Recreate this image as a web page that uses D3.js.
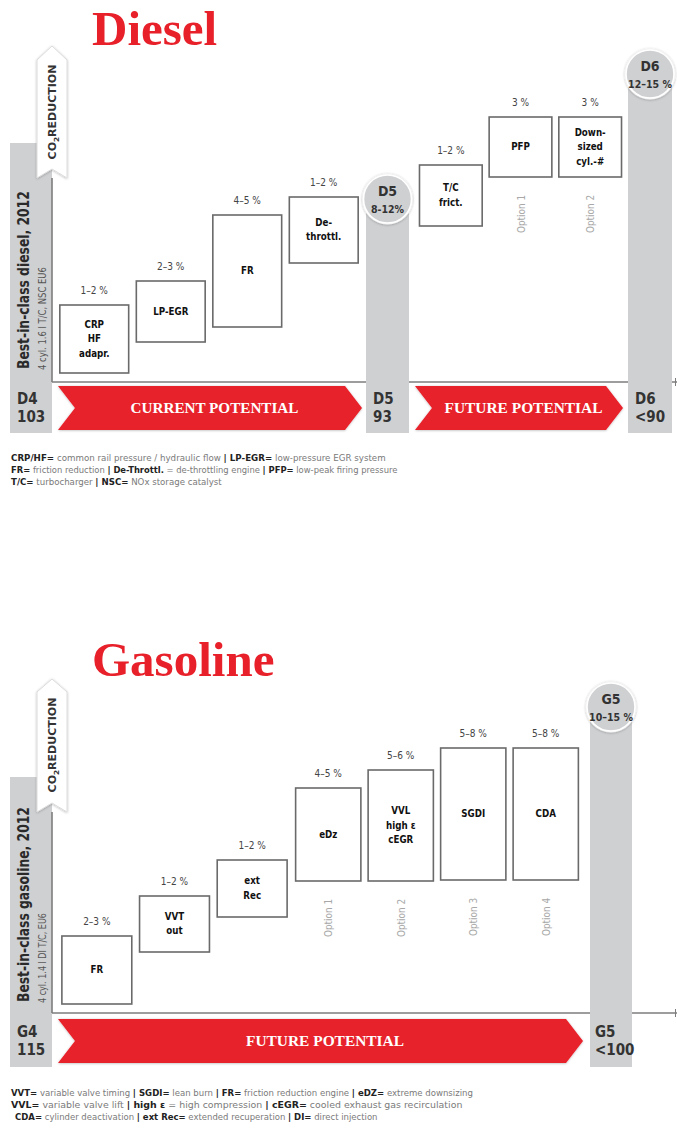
<!DOCTYPE html>
<html>
<head>
<meta charset="utf-8">
<script src="https://cdn.jsdelivr.net/npm/d3@7"></script>
<style>
  body { margin: 0; background: #fff; }
  svg { display: block; }
  .cond { font-family: "Liberation Sans Narrow", "DejaVu Sans Condensed", "Arial Narrow", sans-serif; font-stretch: condensed; }
  .serif { font-family: "Liberation Serif", "DejaVu Serif", serif; }
</style>
</head>
<body>
<svg id="chart" width="677" height="1133"></svg>
<script>
// ---------- Diesel ----------
const dieselNames   = [["CRP","HF","adapr."], ["LP-EGR"], ["FR"], ["De-","throttl."], ["T/C","frict."], ["PFP"], ["Down-","sized","cyl.-#"]];
const dieselShares  = ["1–2 %", "2–3 %", "4–5 %", "1–2 %", "1–2 %", "3 %", "3 %"];
// cumulative CO2 reduction (%) spanned by each measure
const dieselFrom    = [0.45, 2.0, 2.75, 5.95, 7.8, 10.25, 10.25];
const dieselTo      = [3.85, 5.05, 8.35, 9.25, 10.85, 13.25, 13.25];
const dieselGroups  = ["current", "current", "current", "current", "future", "future", "future"];
const dieselOptions = ["", "", "", "", "", "Option 1", "Option 2"];
const dieselStages       = ["D4", "D5", "D6"];
const dieselEmissions    = ["103", "93", "<90"];
const dieselStageShares  = ["", "8-12%", "12–15 %"];
const dieselStageLevels  = [null, 9.15, 15.4];
const dieselArrows       = ["CURRENT POTENTIAL", "FUTURE POTENTIAL"];
const dieselNotes = [
  [["CRP/HF=", 1], [" common rail pressure / hydraulic flow ", 0], ["| LP-EGR=", 1], [" low-pressure EGR system", 0]],
  [["FR=", 1], [" friction reduction ", 0], ["| De-Throttl.", 1], [" = de-throttling engine ", 0], ["| PFP=", 1], [" low-peak firing pressure", 0]],
  [["T/C=", 1], [" turbocharger ", 0], ["| NSC=", 1], [" NOx storage catalyst", 0]]
];

// ---------- Gasoline ----------
const gasolineNames   = [["FR"], ["VVT","out"], ["ext","Rec"], ["eDz"], ["VVL","high ε","cEGR"], ["SGDI"], ["CDA"]];
const gasolineShares  = ["2–3 %", "1–2 %", "1–2 %", "4–5 %", "5–6 %", "5–8 %", "5–8 %"];
const gasolineFrom    = [0.45, 3.05, 4.8, 6.6, 6.6, 6.65, 6.65];
const gasolineTo      = [3.85, 5.85, 7.65, 11.25, 12.15, 13.25, 13.25];
const gasolineGroups  = ["steps", "steps", "steps", "options", "options", "options", "options"];
const gasolineOptions = ["", "", "", "Option 1", "Option 2", "Option 3", "Option 4"];
const gasolineStages      = ["G4", "G5"];
const gasolineEmissions   = ["115", "<100"];
const gasolineStageShares = ["", "10–15 %"];
const gasolineStageLevels = [null, 15.3];
const gasolineArrows      = ["FUTURE POTENTIAL"];
const gasolineNotes = [
  [["VVT=", 1], [" variable valve timing ", 0], ["| SGDI=", 1], [" lean burn ", 0], ["| FR=", 1], [" friction reduction engine ", 0], ["| eDZ=", 1], [" extreme downsizing", 0]],
  [["VVL=", 1], [" variable valve lift ", 0], ["| high ε", 1], [" = high compression ", 0], ["| cEGR=", 1], [" cooled exhaust gas recirculation", 0]],
  [["CDA=", 1], [" cylinder deactivation ", 0], ["| ext Rec=", 1], [" extended recuperation ", 0], ["| DI=", 1], [" direct injection", 0]]
];

// ---------- drawing ----------
const RED = "#e8202a", GREYBAR = "#cfd0d2", LINE = "#7d7d7d", BOXLINE = "#6a6a6a";
const svg = d3.select("#chart");

const defs = svg.append("defs");
const sh = defs.append("filter").attr("id", "soft").attr("x", "-20%").attr("y", "-20%").attr("width", "140%").attr("height", "140%");
sh.append("feDropShadow").attr("dx", 0).attr("dy", 0.5).attr("stdDeviation", 1.2).attr("flood-color", "#000").attr("flood-opacity", 0.28);

// horizontal squeeze so a text run fills a given width
function fit(sel, width, pre, post) {
  const w = sel.node().getComputedTextLength();
  const k = width / w;
  sel.attr("transform", `${pre || ""} scale(${k},1) ${post || ""}`);
}

function drawPanel(p) {
  const g = svg.append("g");
  const y = d3.scaleLinear().domain([0, 16]).range([p.baseY, p.baseY - 320]);

  // title
  g.append("text").attr("class", "serif").attr("x", p.titleX).attr("y", p.titleY)
    .attr("font-size", 49).attr("font-weight", "bold").attr("fill", RED).text(p.title);

  // baseline and vertical axis
  g.append("line").attr("x1", 52).attr("x2", 677).attr("y1", p.baseY).attr("y2", p.baseY)
    .attr("stroke", LINE).attr("stroke-width", 1.6);
  g.append("line").attr("x1", 675.5).attr("x2", 675.5).attr("y1", p.baseY - 4).attr("y2", p.baseY + 4)
    .attr("stroke", LINE).attr("stroke-width", 1);

  // stage columns
  p.stages.forEach((s, i) => {
    const [x0, x1] = p.stageX[i];
    const cx = (x0 + x1) / 2;
    const top = i === 0 ? p.leftBarTop : y(p.stageLevels[i]);
    g.append("rect").attr("x", x0).attr("y", top).attr("width", x1 - x0).attr("height", p.bottomY - top)
      .attr("fill", GREYBAR);
    if (p.stageLevels[i] != null) {
      const cy = y(p.stageLevels[i]);
      g.append("circle").attr("cx", cx).attr("cy", cy).attr("r", 25.5).attr("fill", "#f1f1f1").attr("filter", "url(#soft)");
      g.append("circle").attr("cx", cx).attr("cy", cy).attr("r", 24).attr("fill", GREYBAR)
        .attr("stroke", "#fff").attr("stroke-width", 1.6);
      g.append("text").attr("class", "cond").attr("x", cx).attr("y", cy - 3).attr("text-anchor", "middle")
        .attr("font-size", 14).attr("font-weight", "bold").attr("fill", "#333").text(s);
      g.append("text").attr("class", "cond").attr("x", cx).attr("y", cy + 14).attr("text-anchor", "middle")
        .attr("font-size", 10.5).attr("font-weight", "bold").attr("fill", "#333").text(p.stageShares[i]);
    }
    const lx = x0 + (i === p.stages.length - 1 && p.title === "Gasoline" ? 5 : 7);
    g.append("text").attr("class", "cond").attr("x", lx).attr("y", p.stageLabelY[0])
      .attr("font-size", 15).attr("font-weight", "bold").attr("fill", "#333").text(s);
    g.append("text").attr("class", "cond").attr("x", lx).attr("y", p.stageLabelY[1])
      .attr("font-size", 15).attr("font-weight", "bold").attr("fill", "#333").text(p.emissions[i]);
  });

  // axis line on the left column edge
  g.append("line").attr("x1", 52).attr("x2", 52).attr("y1", p.co2Bottom).attr("y2", p.baseY)
    .attr("stroke", LINE).attr("stroke-width", 1.6);

  // CO2 reduction arrow
  const a = [[37, p.co2Shoulder], [52, p.co2Tip], [67, p.co2Shoulder], [67, p.co2Bottom], [52, p.co2Bottom - 9], [37, p.co2Bottom]];
  g.append("path").attr("d", d3.line()(a) + "Z").attr("fill", "#fff").attr("stroke", "#dcdcdc")
    .attr("stroke-width", 1).attr("filter", "url(#soft)");
  const co2 = g.append("text").attr("class", "cond").attr("font-size", 10.5).attr("font-weight", "bold")
    .attr("fill", "#333").attr("text-anchor", "middle");
  co2.append("tspan").text("CO");
  co2.append("tspan").attr("font-size", 7).attr("dy", 2.5).text("2");
  co2.append("tspan").attr("dy", -2.5).text("REDUCTION");
  fit(co2, p.co2Len, `translate(56,${p.co2Mid}) rotate(-90)`);

  // side label
  const main = g.append("text").attr("class", "cond").attr("font-size", 16).attr("font-weight", "bold")
    .attr("fill", "#2a2a2a").text(p.sideLabel);
  fit(main, p.sideLen, `translate(29,${p.sideBottom}) rotate(-90)`);
  const sub = g.append("text").attr("class", "cond").attr("font-size", 10).attr("fill", "#555").text(p.sideSub);
  fit(sub, p.subLen, `translate(45.5,${p.sideBottom + 1}) rotate(-90)`);

  // potential arrows
  p.arrows.forEach((label, i) => {
    const [x0, x1] = p.arrowSpan[i];
    const [t, b] = p.arrowY;
    const m = (t + b) / 2;
    const pts = [[x0, t], [x1 - 17, t], [x1, m], [x1 - 17, b], [x0, b], [x0 + 17, m]];
    g.append("path").attr("d", d3.line()(pts) + "Z").attr("fill", RED).attr("filter", "url(#soft)");
    const tx = g.append("text").attr("class", "serif").attr("font-size", 14.5).attr("font-weight", "bold")
      .attr("fill", "#fff").attr("text-anchor", "middle").text(label);
    fit(tx, p.arrowTextLen[i], `translate(${(x0 + 17 + x1 - 8) / 2},${m + 5})`);
  });

  // measure boxes, placed per group on their own band scale
  const idx = d3.range(p.names.length);
  const bands = {};
  for (const [grp, range] of Object.entries(p.groupRanges)) {
    bands[grp] = d3.scaleBand().domain(idx.filter(i => p.groups[i] === grp)).range(range)
      .paddingInner(0.1).paddingOuter(0.05);
  }
  idx.forEach(i => {
    const bx = bands[p.groups[i]];
    const x0 = bx(i), w = bx.bandwidth();
    const yt = y(p.to[i]), yb = y(p.from[i]);
    g.append("rect").attr("x", x0).attr("y", yt).attr("width", w).attr("height", yb - yt)
      .attr("fill", "#fff").attr("stroke", BOXLINE).attr("stroke-width", 1.6);
    g.append("text").attr("class", "cond").attr("x", x0 + w / 2).attr("y", yt - 11).attr("text-anchor", "middle")
      .attr("font-size", 10).attr("fill", "#444").text(p.shares[i]);
    const lines = p.names[i];
    const lh = 14.5;
    const cy = (yt + yb) / 2 - 1;
    lines.forEach((ln, j) => {
      const t = g.append("text").attr("class", "cond")
        .attr("text-anchor", "middle")
        .attr("font-size", 11).attr("font-weight", "bold").attr("fill", "#111").text(ln);
      t.attr("transform", `translate(${x0 + w / 2},${cy + (j - (lines.length - 1) / 2) * lh + 4}) scale(0.88,1)`);
    });
    if (p.options[i]) {
      g.append("text").attr("class", "cond").attr("font-size", 11).attr("fill", "#a8a8a8")
        .attr("text-anchor", "middle")
        .attr("transform", `translate(${x0 + w / 2 + 4},${yb + 37}) rotate(-90) scale(0.9,1)`).text(p.options[i]);
    }
  });

  // footnotes
  p.notes.forEach((segs, i) => {
    const t = g.append("text").attr("class", "cond").attr("font-size", 9.5);
    segs.forEach(([s, bold]) => {
      t.append("tspan").attr("font-weight", bold ? "bold" : "normal").attr("fill", bold ? "#222" : "#7a7a7a").text(s);
    });
    fit(t, p.noteWidths[i], `translate(${p.noteX[i]},${p.noteY[i]})`);
  });
}

drawPanel({
  title: "Diesel", titleX: 92, titleY: 45,
  baseY: 382, bottomY: 433, leftBarTop: 143,
  names: dieselNames, shares: dieselShares, from: dieselFrom, to: dieselTo,
  groups: dieselGroups, options: dieselOptions,
  groupRanges: { current: [56, 362], future: [416, 625] },
  stages: dieselStages, emissions: dieselEmissions, stageShares: dieselStageShares, stageLevels: dieselStageLevels,
  stageX: [[10, 52], [366, 409], [628, 672]], stageLabelY: [404, 422],
  co2Tip: 46, co2Shoulder: 60, co2Bottom: 178, co2Mid: 112, co2Len: 95,
  sideLabel: "Best-in-class diesel, 2012", sideLen: 178, sideBottom: 369,
  sideSub: "4 cyl. 1.6 l T/C, NSC EU6", subLen: 103,
  arrows: dieselArrows, arrowSpan: [[58, 362], [415, 623]], arrowY: [386, 430], arrowTextLen: [168, 158],
  notes: dieselNotes, noteX: [11, 11, 11], noteY: [461, 473, 485], noteWidths: [375, 387, 211]
});

drawPanel({
  title: "Gasoline", titleX: 92, titleY: 676,
  baseY: 1013, bottomY: 1067, leftBarTop: 777,
  names: gasolineNames, shares: gasolineShares, from: gasolineFrom, to: gasolineTo,
  groups: gasolineGroups, options: gasolineOptions,
  groupRanges: { steps: [58, 291], options: [292, 582] },
  stages: gasolineStages, emissions: gasolineEmissions, stageShares: gasolineStageShares, stageLevels: gasolineStageLevels,
  stageX: [[10, 52], [590, 632]], stageLabelY: [1037, 1055],
  co2Tip: 679, co2Shoulder: 692, co2Bottom: 812, co2Mid: 745, co2Len: 95,
  sideLabel: "Best-in-class gasoline, 2012", sideLen: 195, sideBottom: 1002,
  sideSub: "4 cyl. 1.4 l DI T/C, EU6", subLen: 90,
  arrows: gasolineArrows, arrowSpan: [[58, 583]], arrowY: [1019, 1063], arrowTextLen: [158],
  notes: gasolineNotes, noteX: [11, 11, 15], noteY: [1096, 1108, 1120], noteWidths: [462, 452, 363]
});
</script>
</body>
</html>
